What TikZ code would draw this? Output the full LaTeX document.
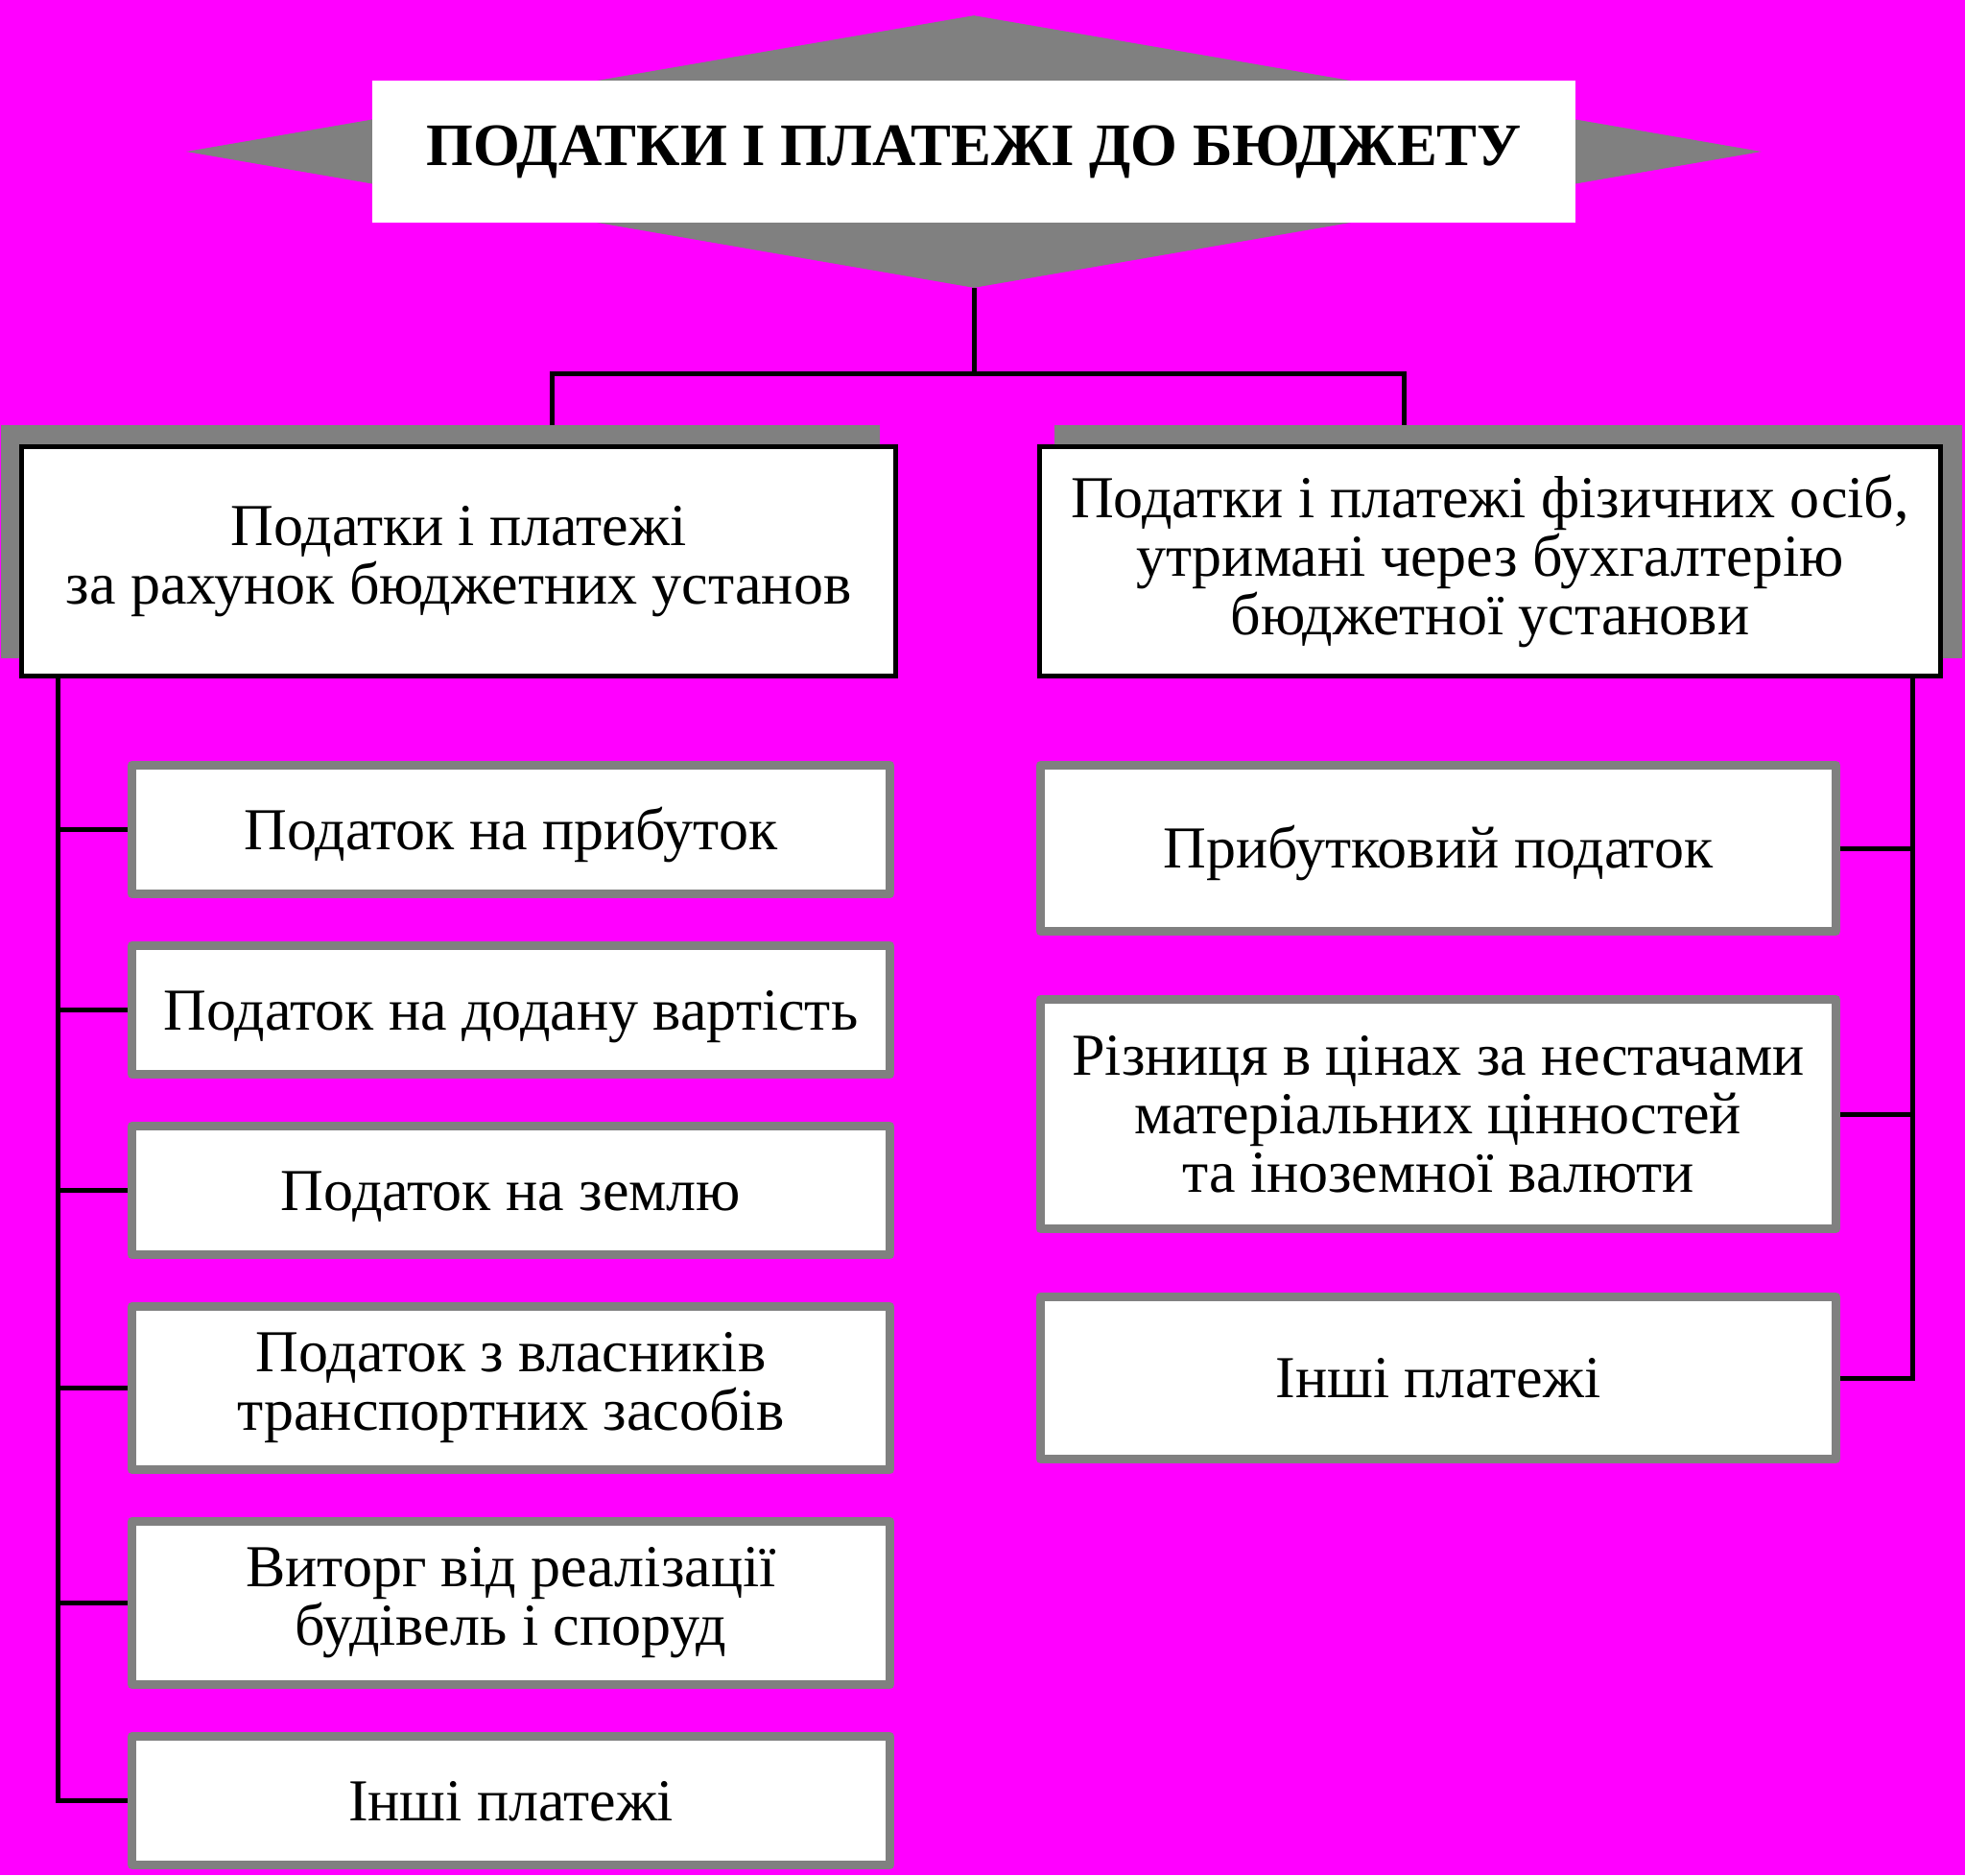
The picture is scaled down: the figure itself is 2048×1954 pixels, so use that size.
\documentclass[tikz,border=0pt]{standalone}
\usepackage{fontspec}
\setmainfont{Liberation Serif}
\usetikzlibrary{positioning, shapes.geometric, calc}
\definecolor{bgpink}{RGB}{255,0,255}
\definecolor{shadegray}{RGB}{128,128,128}

\begin{document}
\begin{tikzpicture}[
        x=0.5pt, y=-0.5pt,
        node distance = 22.5pt,
        head/.style     = {rectangle, fill=white, minimum width=627pt, minimum height=74pt, inner sep=0pt, text height=14pt, text depth=0pt, font=\bfseries\fontsize{31.4}{36}\selectfont},
        mainbox/.style  = {rectangle, draw=black, line width=2.5pt, fill=white, minimum height=119.5pt, inner sep=0pt, align=center, font=\fontsize{31}{30.5}\selectfont},
        backdrop/.style = {rectangle, fill=shadegray, minimum height=121.5pt, inner sep=0pt, outer sep=0pt},
        itembox/.style  = {rectangle, draw=shadegray, line width=4.5pt, line join=round, fill=white, minimum width=395pt, minimum height=67pt, inner sep=0pt, align=center, font=\fontsize{31}{30.5}\selectfont},
        tall/.style     = {minimum height=85pt},
        single/.style   = {text height=20.5pt, text depth=0pt},
        conn/.style     = {draw=black, line width=2.5pt},
    ]
        \useasboundingbox (0,0) rectangle (2048,1954);
        \fill[bgpink] (0,0) rectangle (2048,1954);

        %---- title ----
        \node[diamond, fill=shadegray, minimum width=821pt, minimum height=142pt, inner sep=0pt] (dia) at (1015,158) {};
        \node[head] (title) at (dia.center) {ПОДАТКИ І ПЛАТЕЖІ ДО БЮДЖЕТУ};

        %---- two groups ----
        \node[backdrop, minimum width=458pt] (lsh) at (458.5,564.5) {};
        \node[mainbox, minimum width=455.5pt] (lbox) at (478,585) {Податки і платежі\\за рахунок бюджетних установ};
        \node[backdrop, minimum width=473pt] (rsh) at (1572,564.5) {};
        \node[mainbox, minimum width=469.5pt] (rbox) at (1553,585) {Податки і платежі фізичних осіб,\\утримані через бухгалтерію\\бюджетної установи};

        %---- left column ----
        \node[itembox, single, below=43pt of lbox, xshift=27.25pt] (l1) {Податок на прибуток};
        \node[itembox, single, below=of l1] (l2) {Податок на додану вартість};
        \node[itembox, single, below=of l2] (l3) {Податок на землю};
        \node[itembox, tall, below=of l3] (l4) {Податок з власників\\транспортних засобів};
        \node[itembox, tall, below=of l4] (l5) {Виторг від реалізації\\будівель і споруд};
        \node[itembox, single, below=of l5] (l6) {Інші платежі};

        %---- right column ----
        \node[itembox, single, minimum width=414.5pt, minimum height=86.5pt, below=43pt of rbox, xshift=-27pt] (r1) {Прибутковий податок};
        \node[itembox, minimum width=414.5pt, minimum height=119.5pt, below=31pt of r1] (r2) {Різниця в цінах за нестачами\\матеріальних цінностей\\та іноземної валюти};
        \node[itembox, single, minimum width=414.5pt, minimum height=84.5pt, below=31pt of r2] (r3) {Інші платежі};

        %---- connectors ----
        \coordinate (hub) at (1015,389);
        \coordinate (ldrop) at ([xshift=58.25pt]lsh.north);
        \coordinate (rdrop) at ([xshift=-54.5pt]rsh.north);
        \coordinate (lsp) at (60,0);
        \coordinate (rsp) at (1993,0);
        \draw[conn] (dia.south) -- (hub);
        \draw[conn] (ldrop) |- (hub) -| (rdrop);
        \draw[conn] (lbox.south -| lsp) |- (l6.west);
        \foreach \n in {l1,l2,l3,l4,l5}
            \draw[conn] (\n.west -| lsp) -- (\n.west);
        \draw[conn] (rbox.south -| rsp) |- (r3.east);
        \foreach \n in {r1,r2}
            \draw[conn] (\n.east -| rsp) -- (\n.east);
    \end{tikzpicture}
\end{document}
